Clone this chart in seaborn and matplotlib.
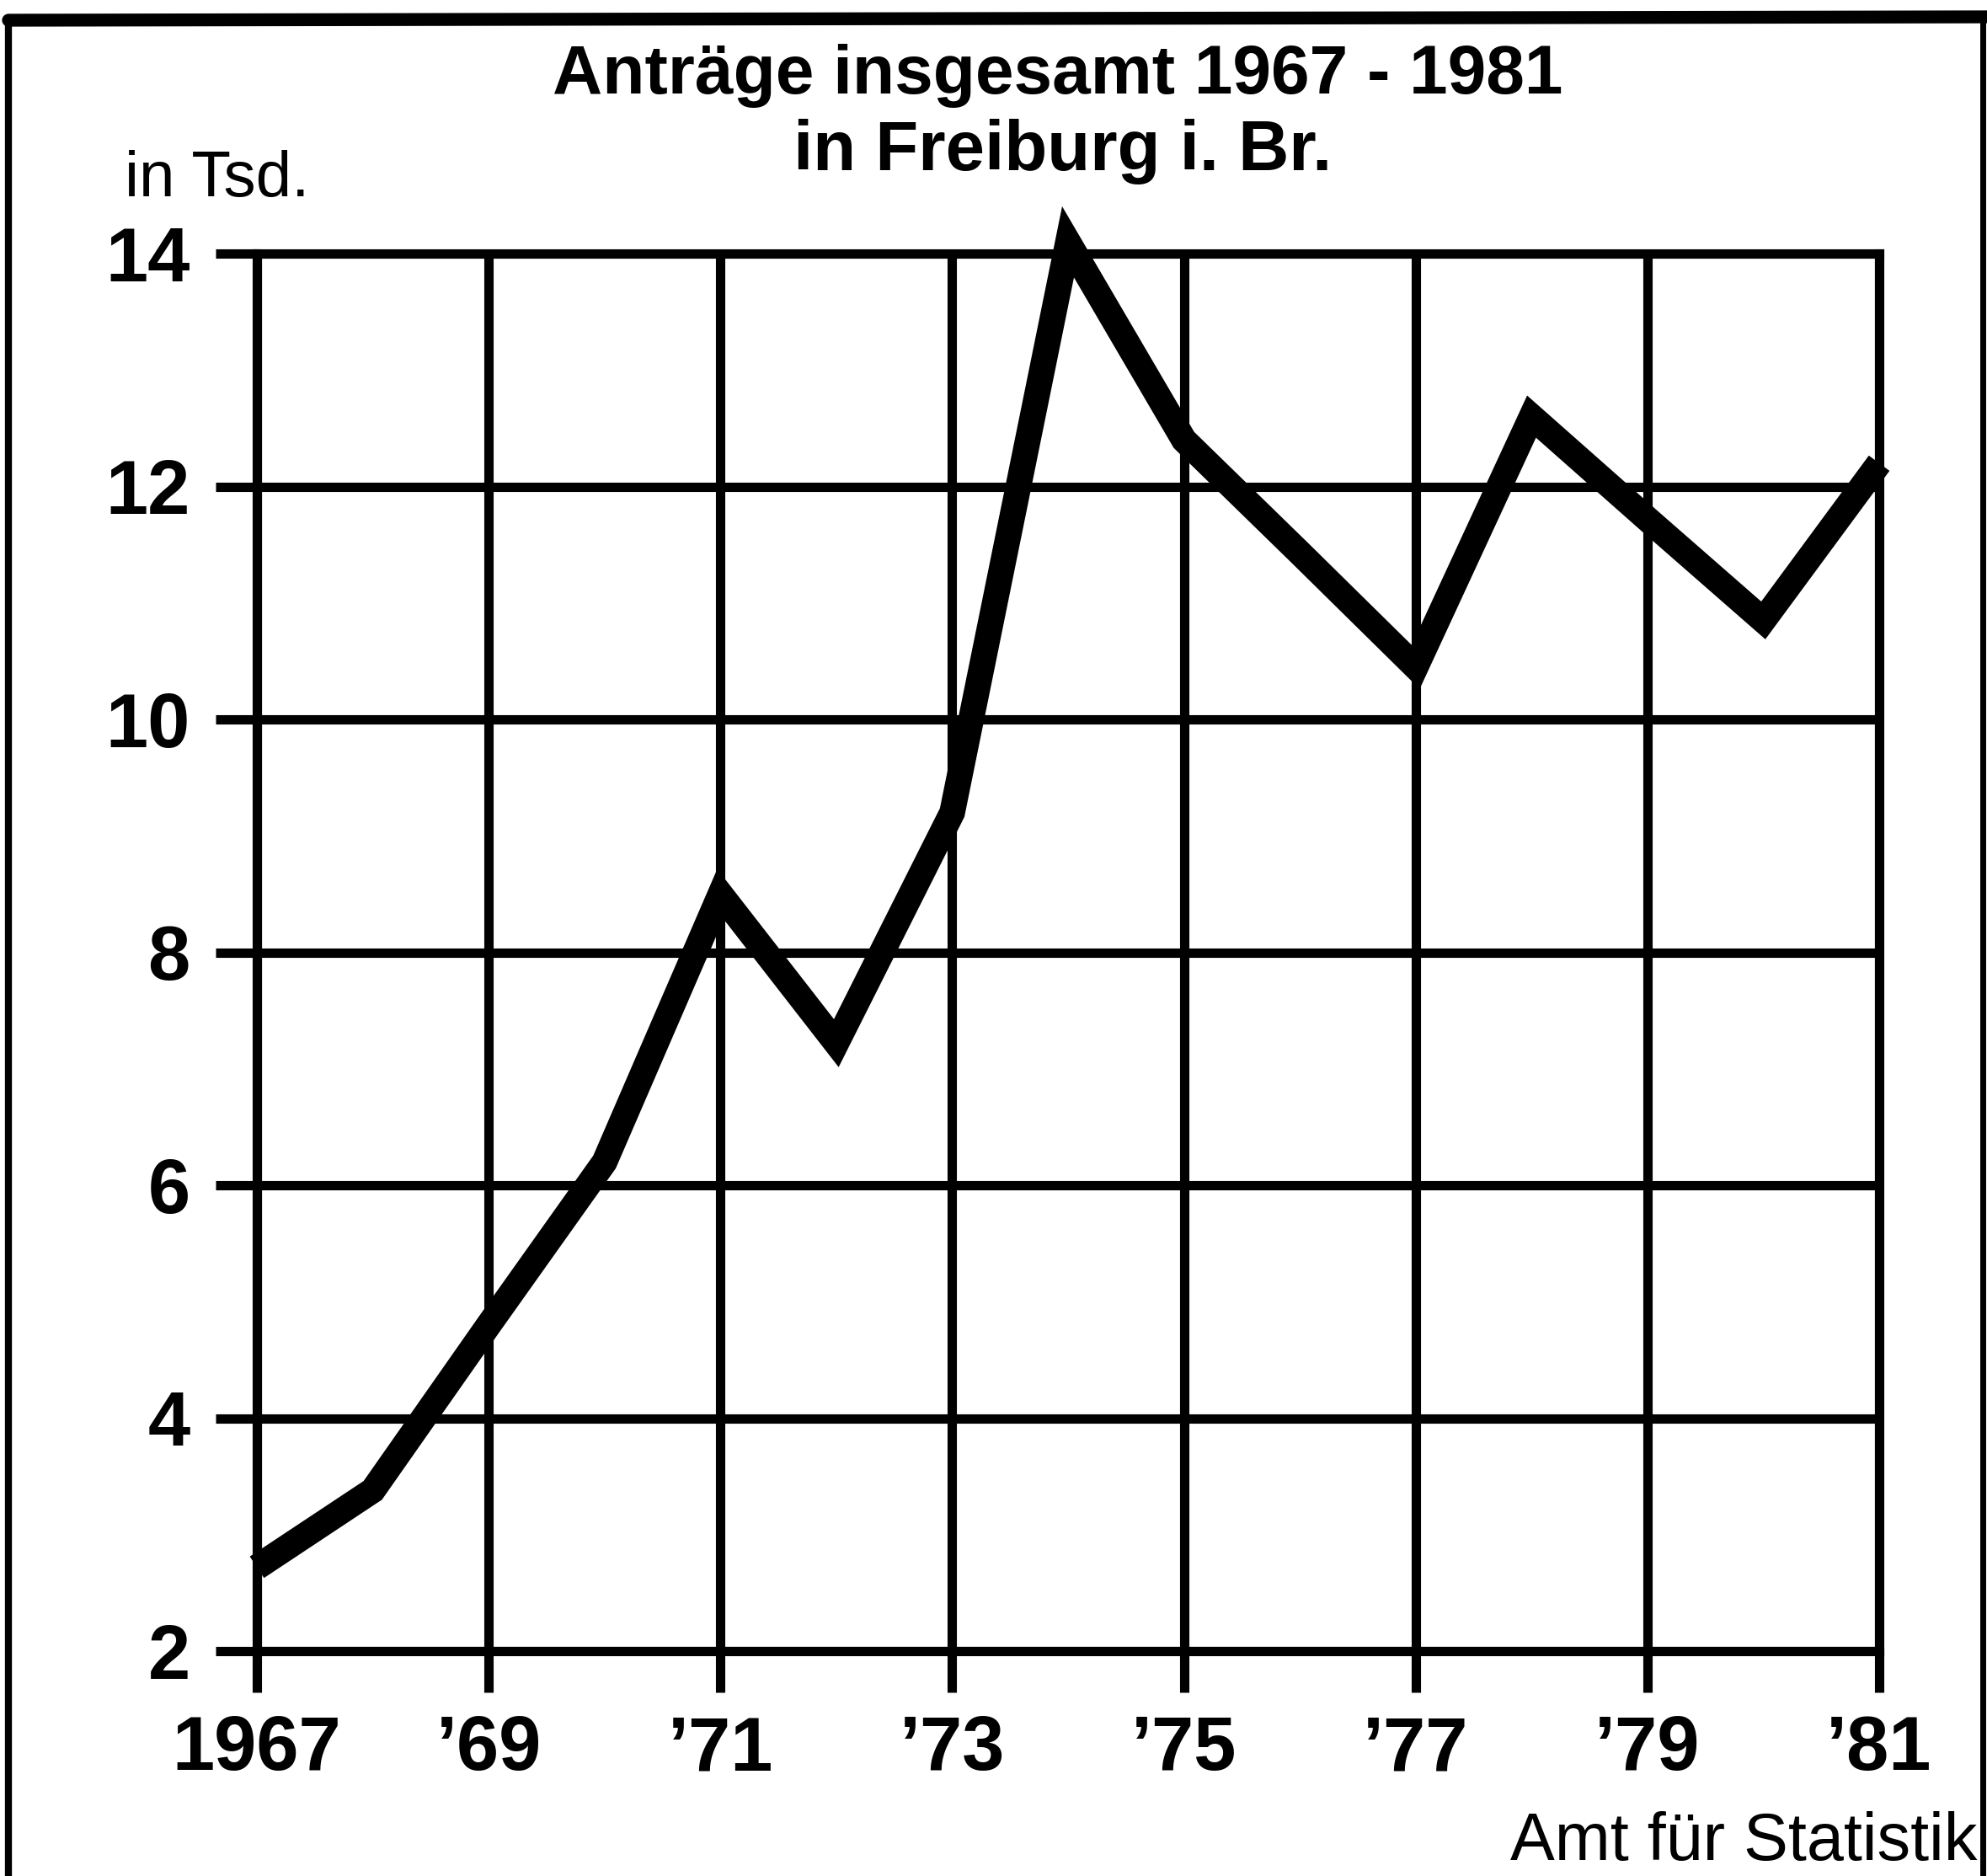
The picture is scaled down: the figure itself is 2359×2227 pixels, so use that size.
import matplotlib
matplotlib.use('Agg')
import matplotlib.pyplot as plt
import seaborn as sns
import pandas as pd
from matplotlib.lines import Line2D

# Anträge insgesamt, Freiburg i. Br. (in Tsd.)
years = list(range(1967, 1982))
antraege = [2.72, 3.38, 4.8, 6.2, 8.5, 7.22, 9.2, 14.1, 12.4, 11.43, 10.45, 12.6, 11.72, 10.85, 12.2]

x_ticks = [1967, 1969, 1971, 1973, 1975, 1977, 1979, 1981]
x_labels = ['1967', '’69', '’71', '’73', '’75', '’77', '’79', '’81']
y_ticks = [2, 4, 6, 8, 10, 12, 14]

df = pd.DataFrame({'Jahr': years, 'Anträge': antraege})

sns.set_style('white')
plt.rcParams['font.family'] = ['Liberation Sans', 'DejaVu Sans']
plt.rcParams['text.color'] = 'black'
plt.rcParams['xtick.color'] = 'black'
plt.rcParams['ytick.color'] = 'black'

W, H = 2359, 2227
fig = plt.figure(figsize=(W / 100, H / 100), dpi=100)
ax = fig.add_axes([305 / W, 1 - 1960 / H, (2231 - 305) / W, (1960 - 301) / H])

sns.lineplot(data=df, x='Jahr', y='Anträge', ax=ax, color='black', linewidth=22,
             solid_joinstyle='miter', solid_capstyle='butt', zorder=5, clip_on=False)

ax.set_xlim(1967, 1981)
ax.set_ylim(2, 14)
ax.set_xticks(x_ticks)
ax.set_xticklabels(x_labels, fontweight='bold')
ax.set_yticks(y_ticks)
ax.set_yticklabels([str(v) for v in y_ticks], fontweight='bold')
ax.set_xlabel('')
ax.set_ylabel('')

ax.grid(True, color='black', linewidth=8)
for s in ax.spines.values():
    s.set_color('black')
    s.set_linewidth(8)
ax.tick_params(axis='both', direction='out', length=35, width=8, color='black',
               labelcolor='black', labelsize=65, bottom=True, left=True)
ax.tick_params(axis='x', pad=19)
ax.tick_params(axis='y', pad=22)

# titles and notes
fig.text(1256 / W, 1 - 90 / H, 'Anträge insgesamt 1967 - 1981', ha='center', va='center',
         fontsize=59, fontweight='bold')
fig.text(1262 / W, 1 - 180 / H, 'in Freiburg i. Br.', ha='center', va='center',
         fontsize=60, fontweight='bold')
fig.text(148 / W, 1 - 214 / H, 'in Tsd.', ha='left', va='center', fontsize=55)
fig.text(2347 / W, 1 - 2208 / H, 'Amt für Statistik', ha='right', va='baseline', fontsize=57)

# frame around the picture
fig.add_artist(Line2D([10 / W, 10 / W], [-0.05, 1 - 22 / H], transform=fig.transFigure,
                      color='black', linewidth=6))
fig.add_artist(Line2D([10 / W, 1.0], [1 - 24 / H, 1 - 20 / H], transform=fig.transFigure,
                      color='black', linewidth=11))
fig.add_artist(Line2D([2354 / W, 2354 / W], [-0.05, 1 - 22 / H], transform=fig.transFigure,
                      color='black', linewidth=5))

fig.savefig('out.png', dpi=100)
